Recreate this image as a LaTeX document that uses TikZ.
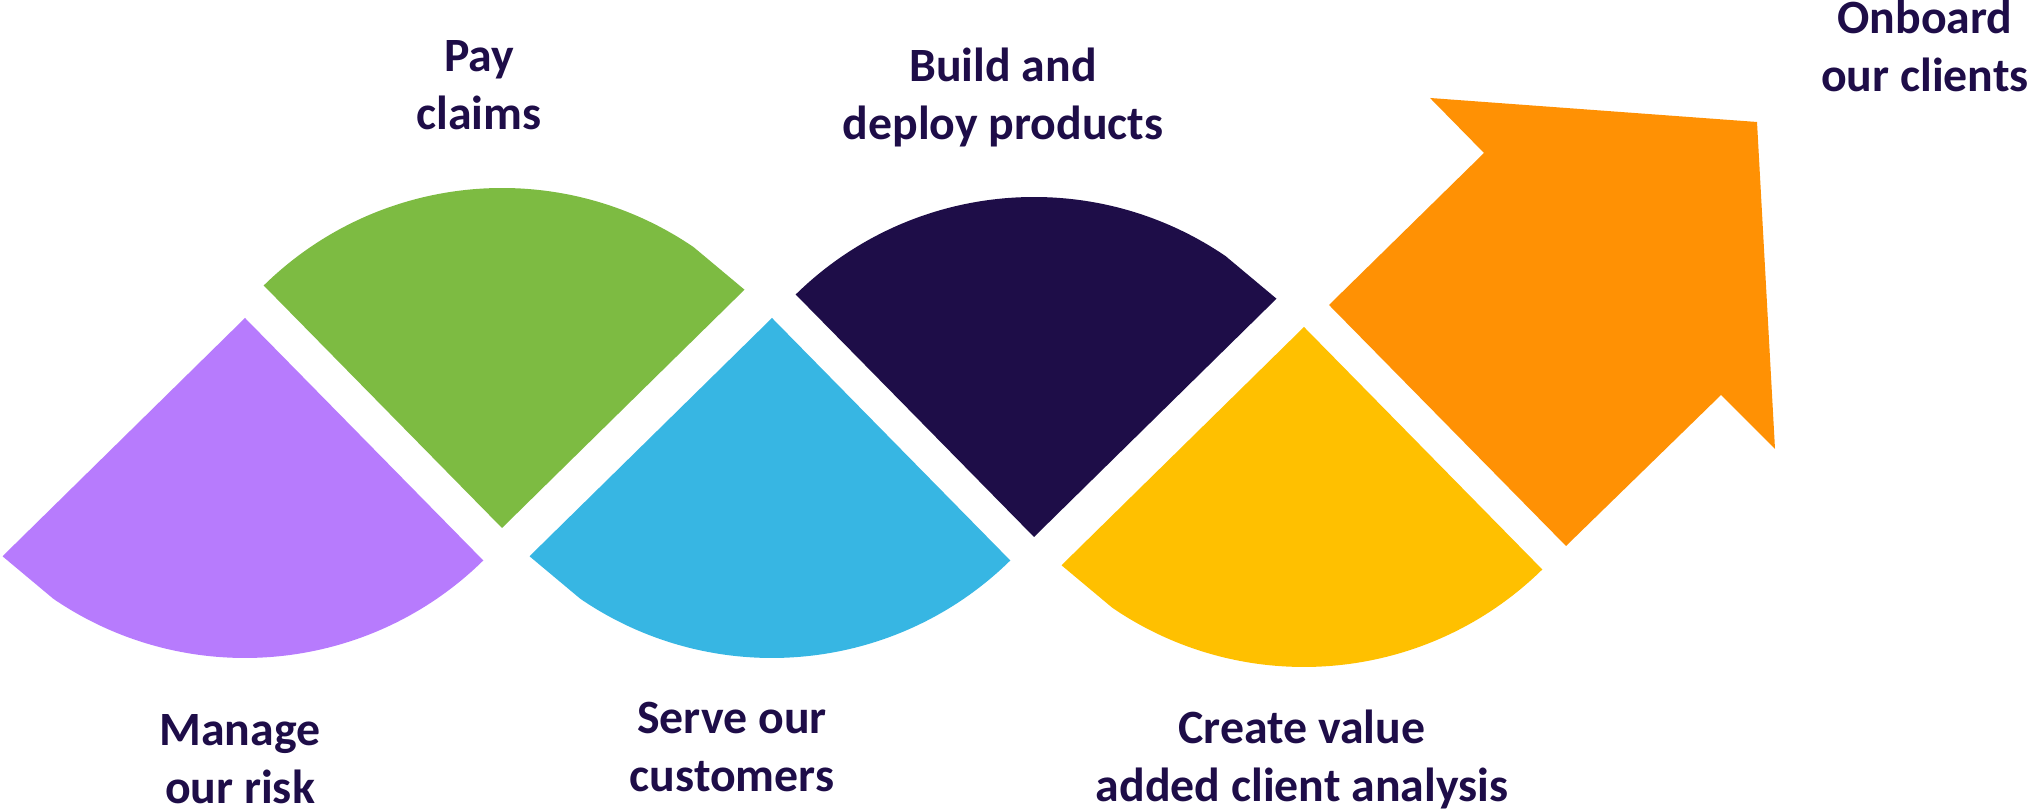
\documentclass[tikz,border=0pt]{standalone}
\usepackage{fontspec}
\setmainfont{Carlito}
\usepackage{tikz}
\definecolor{riskpurple}{HTML}{B77BFD}
\definecolor{claimgreen}{HTML}{7DBB42}
\definecolor{servecyan}{HTML}{37B6E3}
\definecolor{buildnavy}{HTML}{1E0D48}
\definecolor{valueyellow}{HTML}{FFC000}
\definecolor{boardorange}{HTML}{FF9104}

\begin{document}
\begin{tikzpicture}[
    steptext/.style={align=center, anchor=base, text=buildnavy,
        font=\fontsize{13.6}{16.6}\selectfont\bfseries}]
    \useasboundingbox (0,0) rectangle (20.32,8.12);
    \def\lowerwedge{-- +(224.5:3.4) -- +(235.7:3.4) arc [start angle=235.7, end angle=314.5, radius=3.4] -- cycle}
    \def\upperwedge{-- +(44.5:3.4) -- +(55.7:3.4) arc [start angle=55.7, end angle=134.5, radius=3.4] -- cycle}
    \fill [riskpurple] (2.45, 4.94) \lowerwedge;
    \fill [servecyan] (7.72, 4.94) \lowerwedge;
    \fill [valueyellow] (13.04, 4.85) \lowerwedge;
    \fill [claimgreen] (5.02, 2.84) \upperwedge;
    \fill [buildnavy] (10.34, 2.75) \upperwedge;

    \fill [boardorange] (14.30, 7.14) -- (17.57, 6.90) -- (17.75, 3.63) -- (17.21, 4.17)
        -- (15.66, 2.66) -- (13.29, 5.07) -- (14.84, 6.59) -- cycle;

    % base = last line
    \node (manage) [steptext] at (2.40, 0.08) {Manage\\our risk};
    \node (serve) [steptext] at (7.32, 0.20) {Serve our\\customers};
    \node (create) [steptext] at (13.02, 0.10) {Create value\\added client analysis};
    \node (pay) [steptext] at (4.79, 6.82) {Pay\\claims};
    \node (build) [steptext] at (10.03, 6.72) {Build and\\deploy products};
    \node (onboard) [steptext] at (19.25, 7.20) {Onboard\\our clients};
\end{tikzpicture}
\end{document}
